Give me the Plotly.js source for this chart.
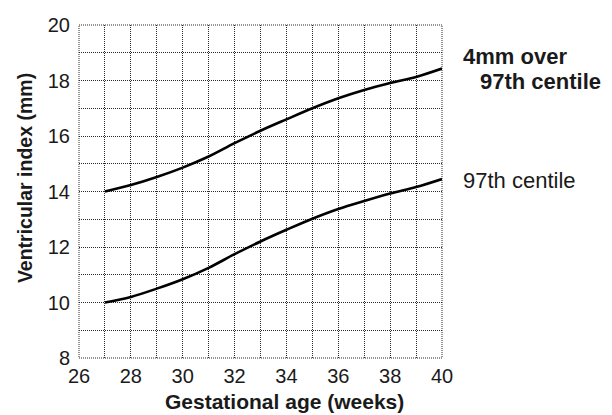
<!DOCTYPE html>
<html>
<head>
<meta charset="utf-8">
<script src="https://cdn.plot.ly/plotly-3.0.1.min.js"></script>
<style>html,body{margin:0;padding:0;background:#fff;}#chart{width:612px;height:415px;}</style>
</head>
<body>
<div id="chart"></div>
<script>
var weeks = [27, 28, 29, 30, 31, 32, 33, 34, 35, 36, 37, 38, 39, 40];
var centile97 = [10.0, 10.2, 10.5, 10.84, 11.25, 11.74, 12.2, 12.62, 13.02, 13.37, 13.66, 13.93, 14.16, 14.45];
var over4mm = [14.0, 14.23, 14.52, 14.86, 15.26, 15.74, 16.19, 16.6, 17.0, 17.36, 17.66, 17.91, 18.13, 18.43];
var xTicks = [26, 28, 30, 32, 34, 36, 38, 40];
var yTicks = [8, 10, 12, 14, 16, 18, 20];
var labelTop = ["4mm over", "97th centile"];
var labelLow = "97th centile";
var xTitle = "Gestational age (weeks)";
var yTitle = "Ventricular index (mm)";

var lineStyle = {color: '#000', width: 2.6, shape: 'spline', smoothing: 1};
var traces = [
  {x: weeks, y: centile97, mode: 'lines', line: lineStyle, hoverinfo: 'skip', cliponaxis: false},
  {x: weeks, y: over4mm, mode: 'lines', line: lineStyle, hoverinfo: 'skip', cliponaxis: false}
];
var fam = 'Liberation Sans, Arial, sans-serif';
var txt = '#1a1a1a';
var gridDash = '1px,1px';
var gridCol = '#2a2a2a';
var layout = {
  width: 612, height: 415,
  margin: {l: 79, r: 170, t: 25, b: 57},
  paper_bgcolor: '#fff', plot_bgcolor: '#fff',
  showlegend: false,
  font: {family: fam, color: txt},
  xaxis: {
    range: [26, 40], tickvals: xTicks, ticktext: xTicks.map(String),
    showgrid: true, gridcolor: gridCol, gridwidth: 1, griddash: gridDash,
    minor: {dtick: 1, tick0: 26, showgrid: true, gridcolor: gridCol, gridwidth: 1, griddash: gridDash},
    zeroline: false, showline: false, ticks: '', ticklabelstandoff: 4,
    tickfont: {family: fam, size: 20, color: txt}
  },
  yaxis: {
    range: [8, 20], tickvals: yTicks, ticktext: yTicks.map(String),
    showgrid: true, gridcolor: gridCol, gridwidth: 1, griddash: gridDash,
    minor: {dtick: 1, tick0: 8, showgrid: true, gridcolor: gridCol, gridwidth: 1, griddash: gridDash},
    zeroline: false, showline: false, ticks: '', ticklabelstandoff: 8,
    tickfont: {family: fam, size: 20, color: txt}
  },
  shapes: [
    {type: 'rect', xref: 'paper', yref: 'paper', x0: 0, x1: 1, y0: 0, y1: 1, layer: 'below',
     line: {color: gridCol, width: 1, dash: gridDash}}
  ],
  annotations: [
    {xref: 'paper', yref: 'paper', x: 0.567, y: -0.13, xanchor: 'center', yanchor: 'middle', showarrow: false,
     text: '<b>' + xTitle + '</b>', font: {family: fam, size: 21, color: txt}},
    {xref: 'paper', yref: 'paper', x: -0.149, y: 0.54, xanchor: 'center', yanchor: 'middle', showarrow: false,
     textangle: -90, text: '<b>' + yTitle + '</b>', font: {family: fam, size: 19.5, color: txt}},
    {xref: 'paper', yref: 'y', x: 1.052, y: 18.85, xanchor: 'left', yanchor: 'middle', showarrow: false,
     text: '<b>' + labelTop[0] + '</b>', font: {family: fam, size: 22, color: txt}},
    {xref: 'paper', yref: 'y', x: 1.1, y: 17.98, xanchor: 'left', yanchor: 'middle', showarrow: false,
     text: '<b>' + labelTop[1] + '</b>', font: {family: fam, size: 22, color: txt}},
    {xref: 'paper', yref: 'y', x: 1.052, y: 14.38, xanchor: 'left', yanchor: 'middle', showarrow: false,
     text: labelLow, font: {family: fam, size: 22, color: txt}}
  ]
};
Plotly.newPlot('chart', traces, layout, {staticPlot: true, displayModeBar: false});
</script>
</body>
</html>
